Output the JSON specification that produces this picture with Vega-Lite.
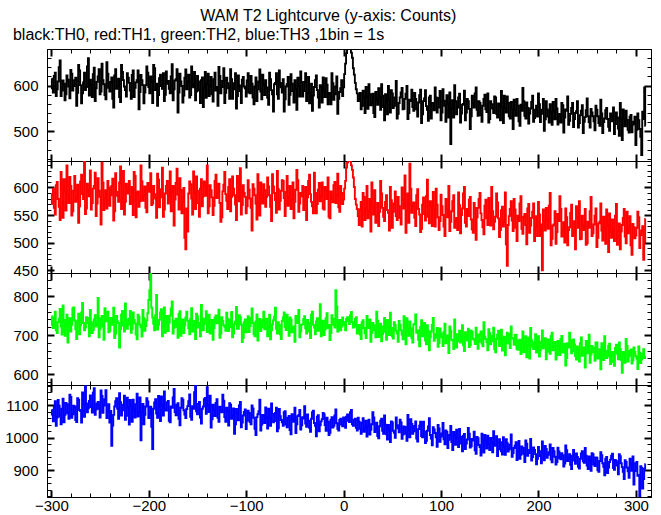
{
"$schema": "https://vega.github.io/schema/vega-lite/v6.json",
"background": "white",
"padding": {"left": 4, "top": 7, "right": 10, "bottom": 0},
"spacing": 0,
"bounds": "flush",
"title": {"text": "WAM T2 Lightcurve (y-axis: Counts)", "anchor": "middle", "font": "Liberation Sans", "fontSize": 16, "fontWeight": "normal", "color": "black", "offset": 3},
"config": {
  "view": {"stroke": "black", "strokeWidth": 1},
  "axis": {"domainColor": "black", "domainWidth": 1, "tickColor": "black", "labelColor": "black", "labelFont": "Liberation Sans", "labelFontSize": 15, "grid": false, "title": null, "labelOverlap": false, "labelFlush": false, "format": "d"}
},
"data": {"values": [
{"t":-300,"a":615,"b":570,"c":748,"d":1085},{"t":-298,"a":585,"b":598,"c":718,"d":1050},{"t":-296,"a":628,"b":551,"c":760,"d":1112},{"t":-294,"a":592,"b":610,"c":705,"d":1062},{"t":-292,"a":640,"b":565,"c":741,"d":1098},{"t":-290,"a":577,"b":628,"c":722,"d":1041},{"t":-288,"a":611,"b":545,"c":776,"d":1120},{"t":-286,"a":568,"b":593,"c":698,"d":1070},{"t":-284,"a":622,"b":640,"c":752,"d":1103},{"t":-282,"a":598,"b":572,"c":729,"d":1058},
{"t":-280,"a":634,"b":603,"c":709,"d":1125},{"t":-278,"a":589,"b":557,"c":768,"d":1072},{"t":-276,"a":612,"b":621,"c":738,"d":1096},{"t":-274,"a":556,"b":580,"c":690,"d":1048},{"t":-272,"a":645,"b":536,"c":755,"d":1117},{"t":-270,"a":601,"b":611,"c":725,"d":1082},{"t":-268,"a":583,"b":588,"c":782,"d":1139},{"t":-266,"a":628,"b":648,"c":712,"d":1064},{"t":-264,"a":597,"b":562,"c":746,"d":1105},{"t":-262,"a":660,"b":596,"c":730,"d":1090},
{"t":-260,"a":613,"b":631,"c":764,"d":1130},{"t":-258,"a":575,"b":572,"c":705,"d":1077},{"t":-256,"a":639,"b":603,"c":740,"d":1152},{"t":-254,"a":594,"b":548,"c":722,"d":1086},{"t":-252,"a":620,"b":617,"c":795,"d":1110},{"t":-250,"a":581,"b":583,"c":716,"d":1062},{"t":-248,"a":648,"b":645,"c":749,"d":1128},{"t":-246,"a":603,"b":559,"c":688,"d":1099},{"t":-244,"a":570,"b":595,"c":737,"d":1146},{"t":-242,"a":626,"b":612,"c":760,"d":1081},
{"t":-240,"a":587,"b":567,"c":711,"d":1046},{"t":-238,"a":618,"b":603,"c":742,"d":975},{"t":-236,"a":552,"b":540,"c":770,"d":1070},{"t":-234,"a":636,"b":626,"c":703,"d":1112},{"t":-232,"a":599,"b":585,"c":735,"d":1089},{"t":-230,"a":575,"b":609,"c":668,"d":1137},{"t":-228,"a":645,"b":561,"c":752,"d":1068},{"t":-226,"a":612,"b":630,"c":724,"d":1101},{"t":-224,"a":590,"b":574,"c":781,"d":1055},{"t":-222,"a":627,"b":598,"c":716,"d":1123},
{"t":-220,"a":606,"b":612,"c":742,"d":1040},{"t":-218,"a":571,"b":583,"c":706,"d":1098},{"t":-216,"a":633,"b":550,"c":758,"d":1117},{"t":-214,"a":595,"b":621,"c":730,"d":1062},{"t":-212,"a":612,"b":589,"c":689,"d":1135},{"t":-210,"a":548,"b":565,"c":747,"d":1079},{"t":-208,"a":623,"b":640,"c":720,"d":992},{"t":-206,"a":601,"b":576,"c":764,"d":1104},{"t":-204,"a":585,"b":602,"c":711,"d":1070},{"t":-202,"a":642,"b":555,"c":738,"d":1121},
{"t":-200,"a":597,"b":597,"c":790,"d":1060},{"t":-198,"a":620,"b":626,"c":862,"d":1095},{"t":-196,"a":562,"b":571,"c":745,"d":965},{"t":-194,"a":638,"b":588,"c":712,"d":1108},{"t":-192,"a":604,"b":545,"c":803,"d":1074},{"t":-190,"a":579,"b":614,"c":726,"d":1128},{"t":-188,"a":624,"b":582,"c":758,"d":1051},{"t":-186,"a":593,"b":636,"c":697,"d":1099},{"t":-184,"a":566,"b":560,"c":771,"d":1142},{"t":-182,"a":631,"b":603,"c":733,"d":1083},
{"t":-180,"a":610,"b":571,"c":710,"d":1113},{"t":-178,"a":583,"b":629,"c":750,"d":1047},{"t":-176,"a":647,"b":592,"c":786,"d":1092},{"t":-174,"a":592,"b":531,"c":719,"d":1150},{"t":-172,"a":614,"b":608,"c":742,"d":1069},{"t":-170,"a":541,"b":587,"c":693,"d":1106},{"t":-168,"a":626,"b":617,"c":761,"d":1038},{"t":-166,"a":599,"b":553,"c":728,"d":1121},{"t":-164,"a":578,"b":599,"c":705,"d":1084},{"t":-162,"a":635,"b":488,"c":745,"d":1060},
{"t":-160,"a":607,"b":520,"c":737,"d":1097},{"t":-158,"a":574,"b":611,"c":702,"d":1133},{"t":-156,"a":642,"b":580,"c":769,"d":1055},{"t":-154,"a":596,"b":629,"c":725,"d":1089},{"t":-152,"a":568,"b":561,"c":690,"d":1160},{"t":-150,"a":621,"b":594,"c":748,"d":1072},{"t":-148,"a":589,"b":547,"c":731,"d":1110},{"t":-146,"a":612,"b":615,"c":777,"d":1043},{"t":-144,"a":553,"b":584,"c":712,"d":1096},{"t":-142,"a":630,"b":602,"c":741,"d":1122},
{"t":-140,"a":604,"b":640,"c":708,"d":1155},{"t":-138,"a":577,"b":566,"c":752,"d":1079},{"t":-136,"a":619,"b":595,"c":719,"d":1031},{"t":-134,"a":565,"b":550,"c":688,"d":1101},{"t":-132,"a":628,"b":612,"c":745,"d":1066},{"t":-130,"a":597,"b":581,"c":730,"d":1118},{"t":-128,"a":641,"b":607,"c":765,"d":1049},{"t":-126,"a":583,"b":538,"c":703,"d":1084},{"t":-124,"a":610,"b":593,"c":736,"d":1132},{"t":-122,"a":562,"b":628,"c":721,"d":1063},
{"t":-120,"a":617,"b":576,"c":757,"d":1092},{"t":-118,"a":594,"b":601,"c":710,"d":1037},{"t":-116,"a":636,"b":557,"c":739,"d":1101},{"t":-114,"a":571,"b":620,"c":694,"d":1070},{"t":-112,"a":605,"b":586,"c":728,"d":1012},{"t":-110,"a":550,"b":541,"c":772,"d":1088},{"t":-108,"a":622,"b":609,"c":716,"d":1053},{"t":-106,"a":588,"b":635,"c":746,"d":1110},{"t":-104,"a":613,"b":568,"c":682,"d":1046},{"t":-102,"a":598,"b":590,"c":733,"d":1079},
{"t":-100,"a":576,"b":553,"c":707,"d":1026},{"t":-98,"a":627,"b":613,"c":748,"d":1083},{"t":-96,"a":583,"b":580,"c":723,"d":1048},{"t":-94,"a":604,"b":522,"c":768,"d":1099},{"t":-92,"a":559,"b":598,"c":702,"d":1061},{"t":-90,"a":618,"b":571,"c":735,"d":1008},{"t":-88,"a":592,"b":624,"c":686,"d":1072},{"t":-86,"a":635,"b":549,"c":741,"d":1117},{"t":-84,"a":570,"b":587,"c":719,"d":1040},{"t":-82,"a":601,"b":606,"c":760,"d":1066},
{"t":-80,"a":612,"b":565,"c":731,"d":1093},{"t":-78,"a":573,"b":618,"c":697,"d":1028},{"t":-76,"a":628,"b":586,"c":752,"d":1060},{"t":-74,"a":590,"b":539,"c":712,"d":1105},{"t":-72,"a":543,"b":602,"c":738,"d":1047},{"t":-70,"a":606,"b":577,"c":770,"d":1076},{"t":-68,"a":581,"b":630,"c":704,"d":1019},{"t":-66,"a":633,"b":560,"c":726,"d":1088},{"t":-64,"a":596,"b":594,"c":690,"d":1054},{"t":-62,"a":614,"b":612,"c":745,"d":1036},
{"t":-60,"a":570,"b":548,"c":721,"d":1081},{"t":-58,"a":603,"b":621,"c":752,"d":1032},{"t":-56,"a":558,"b":583,"c":698,"d":1067},{"t":-54,"a":625,"b":561,"c":740,"d":1010},{"t":-52,"a":588,"b":609,"c":715,"d":1059},{"t":-50,"a":612,"b":574,"c":683,"d":1092},{"t":-48,"a":547,"b":632,"c":733,"d":1041},{"t":-46,"a":599,"b":556,"c":764,"d":1070},{"t":-44,"a":631,"b":590,"c":709,"d":1025},{"t":-42,"a":576,"b":603,"c":728,"d":1063},
{"t":-40,"a":608,"b":579,"c":748,"d":1097},{"t":-38,"a":566,"b":541,"c":704,"d":1033},{"t":-36,"a":619,"b":612,"c":731,"d":1052},{"t":-34,"a":583,"b":588,"c":692,"d":1018},{"t":-32,"a":545,"b":566,"c":760,"d":1078},{"t":-30,"a":597,"b":627,"c":719,"d":1045},{"t":-28,"a":622,"b":553,"c":735,"d":1004},{"t":-26,"a":574,"b":596,"c":711,"d":1069},{"t":-24,"a":601,"b":575,"c":779,"d":1038},{"t":-22,"a":563,"b":609,"c":726,"d":1057},
{"t":-20,"a":590,"b":560,"c":700,"d":1072},{"t":-18,"a":616,"b":594,"c":743,"d":1021},{"t":-16,"a":559,"b":618,"c":718,"d":1049},{"t":-14,"a":582,"b":544,"c":687,"d":1015},{"t":-12,"a":627,"b":580,"c":751,"d":1063},{"t":-10,"a":569,"b":604,"c":726,"d":1036},{"t":-8,"a":598,"b":572,"c":815,"d":1087},{"t":-6,"a":538,"b":625,"c":709,"d":1027},{"t":-4,"a":586,"b":556,"c":739,"d":1054},{"t":-2,"a":612,"b":590,"c":722,"d":1040},
{"t":0,"a":596,"b":578,"c":733,"d":1062},{"t":2,"a":648,"b":612,"c":712,"d":1030},{"t":4,"a":684,"b":645,"c":746,"d":1071},{"t":6,"a":690,"b":652,"c":728,"d":1048},{"t":8,"a":672,"b":640,"c":759,"d":1085},{"t":10,"a":638,"b":618,"c":719,"d":1036},{"t":12,"a":606,"b":579,"c":741,"d":1058},{"t":14,"a":583,"b":561,"c":704,"d":1022},
{"t":16,"a":571,"b":532,"c":726,"d":1049},{"t":18,"a":548,"b":574,"c":690,"d":1012},{"t":20,"a":589,"b":590,"c":738,"d":1060},{"t":22,"a":540,"b":541,"c":705,"d":1031},{"t":24,"a":576,"b":603,"c":749,"d":1003},{"t":26,"a":603,"b":558,"c":718,"d":1055},{"t":28,"a":557,"b":520,"c":683,"d":1024},{"t":30,"a":582,"b":567,"c":731,"d":1078},{"t":32,"a":531,"b":595,"c":712,"d":1017},{"t":34,"a":569,"b":548,"c":760,"d":1046},
{"t":36,"a":594,"b":530,"c":695,"d":998},{"t":38,"a":547,"b":612,"c":729,"d":1052},{"t":40,"a":578,"b":563,"c":702,"d":1021},{"t":42,"a":524,"b":539,"c":744,"d":1068},{"t":44,"a":562,"b":586,"c":688,"d":1010},{"t":46,"a":599,"b":554,"c":720,"d":1039},{"t":48,"a":541,"b":601,"c":757,"d":986},{"t":50,"a":583,"b":527,"c":697,"d":1047},{"t":52,"a":556,"b":571,"c":733,"d":1015},{"t":54,"a":610,"b":548,"c":711,"d":1062},
{"t":56,"a":538,"b":583,"c":683,"d":1029},{"t":58,"a":574,"b":545,"c":726,"d":1055},{"t":60,"a":595,"b":600,"c":701,"d":996},{"t":62,"a":549,"b":562,"c":748,"d":1034},{"t":64,"a":582,"b":518,"c":676,"d":1012},{"t":66,"a":527,"b":589,"c":715,"d":1070},{"t":68,"a":569,"b":643,"c":735,"d":1001},{"t":70,"a":591,"b":554,"c":692,"d":1042},{"t":72,"a":545,"b":573,"c":727,"d":1019},{"t":74,"a":571,"b":530,"c":753,"d":1050},
{"t":76,"a":532,"b":597,"c":712,"d":988},{"t":78,"a":579,"b":551,"c":671,"d":1037},{"t":80,"a":518,"b":525,"c":738,"d":1005},{"t":82,"a":566,"b":582,"c":702,"d":1049},{"t":84,"a":590,"b":540,"c":686,"d":983},{"t":86,"a":547,"b":614,"c":725,"d":1021},{"t":88,"a":574,"b":535,"c":661,"d":1060},{"t":90,"a":528,"b":566,"c":709,"d":997},{"t":92,"a":561,"b":592,"c":744,"d":1032},{"t":94,"a":596,"b":529,"c":693,"d":1014},
{"t":96,"a":541,"b":569,"c":718,"d":972},{"t":98,"a":573,"b":523,"c":680,"d":1028},{"t":100,"a":524,"b":587,"c":704,"d":1003},{"t":102,"a":592,"b":550,"c":672,"d":1045},{"t":104,"a":556,"b":512,"c":729,"d":979},{"t":106,"a":579,"b":561,"c":695,"d":1017},{"t":108,"a":530,"b":603,"c":654,"d":993},{"t":110,"a":472,"b":538,"c":711,"d":1036},{"t":112,"a":568,"b":575,"c":686,"d":962},{"t":114,"a":601,"b":527,"c":740,"d":1009},
{"t":116,"a":537,"b":545,"c":668,"d":1024},{"t":118,"a":574,"b":591,"c":702,"d":971},{"t":120,"a":519,"b":517,"c":681,"d":1003},{"t":122,"a":558,"b":562,"c":725,"d":958},{"t":124,"a":589,"b":601,"c":659,"d":1011},{"t":126,"a":541,"b":529,"c":697,"d":982},{"t":128,"a":566,"b":548,"c":716,"d":1030},{"t":130,"a":505,"b":583,"c":674,"d":969},{"t":132,"a":578,"b":524,"c":708,"d":996},{"t":134,"a":552,"b":572,"c":688,"d":1018},
{"t":136,"a":596,"b":505,"c":719,"d":950},{"t":138,"a":534,"b":563,"c":665,"d":998},{"t":140,"a":562,"b":590,"c":702,"d":971},{"t":142,"a":521,"b":541,"c":678,"d":1012},{"t":144,"a":571,"b":515,"c":733,"d":954},{"t":146,"a":548,"b":578,"c":690,"d":989},{"t":148,"a":583,"b":532,"c":661,"d":1006},{"t":150,"a":527,"b":556,"c":705,"d":962},{"t":152,"a":559,"b":601,"c":684,"d":985},{"t":154,"a":540,"b":524,"c":719,"d":1020},
{"t":156,"a":574,"b":547,"c":656,"d":976},{"t":158,"a":530,"b":573,"c":701,"d":943},{"t":160,"a":557,"b":510,"c":672,"d":995},{"t":162,"a":588,"b":559,"c":714,"d":958},{"t":164,"a":518,"b":529,"c":689,"d":1001},{"t":166,"a":551,"b":591,"c":648,"d":947},{"t":168,"a":576,"b":458,"c":706,"d":983},{"t":170,"a":533,"b":548,"c":678,"d":964},{"t":172,"a":564,"b":575,"c":722,"d":1010},{"t":174,"a":505,"b":521,"c":691,"d":952},
{"t":176,"a":547,"b":560,"c":700,"d":975},{"t":178,"a":571,"b":503,"c":664,"d":931},{"t":180,"a":522,"b":539,"c":687,"d":990},{"t":182,"a":558,"b":584,"c":651,"d":947},{"t":184,"a":595,"b":516,"c":709,"d":968},{"t":186,"a":534,"b":552,"c":676,"d":925},{"t":188,"a":563,"b":497,"c":643,"d":981},{"t":190,"a":517,"b":570,"c":694,"d":952},{"t":192,"a":550,"b":531,"c":718,"d":996},{"t":194,"a":578,"b":556,"c":670,"d":940},
{"t":196,"a":529,"b":503,"c":681,"d":962},{"t":198,"a":556,"b":548,"c":655,"d":918},{"t":200,"a":583,"b":574,"c":697,"d":971},{"t":202,"a":520,"b":512,"c":661,"d":943},{"t":204,"a":547,"b":450,"c":712,"d":988},{"t":206,"a":501,"b":539,"c":674,"d":930},{"t":208,"a":566,"b":563,"c":638,"d":965},{"t":210,"a":532,"b":525,"c":689,"d":947},{"t":212,"a":559,"b":590,"c":652,"d":979},{"t":214,"a":514,"b":507,"c":706,"d":924},
{"t":216,"a":544,"b":533,"c":671,"d":958},{"t":218,"a":571,"b":498,"c":637,"d":917},{"t":220,"a":515,"b":552,"c":685,"d":969},{"t":222,"a":538,"b":584,"c":649,"d":936},{"t":224,"a":562,"b":511,"c":698,"d":952},{"t":226,"a":497,"b":537,"c":664,"d":911},{"t":228,"a":548,"b":562,"c":622,"d":976},{"t":230,"a":576,"b":495,"c":679,"d":928},{"t":232,"a":523,"b":528,"c":706,"d":949},{"t":234,"a":551,"b":569,"c":653,"d":903},
{"t":236,"a":509,"b":520,"c":689,"d":962},{"t":238,"a":540,"b":488,"c":646,"d":919},{"t":240,"a":566,"b":546,"c":671,"d":940},{"t":242,"a":518,"b":575,"c":632,"d":905},{"t":244,"a":545,"b":507,"c":694,"d":951},{"t":246,"a":496,"b":532,"c":658,"d":927},{"t":248,"a":531,"b":561,"c":617,"d":968},{"t":250,"a":572,"b":499,"c":677,"d":914},{"t":252,"a":520,"b":527,"c":701,"d":942},{"t":254,"a":549,"b":583,"c":650,"d":898},
{"t":256,"a":533,"b":517,"c":668,"d":949},{"t":258,"a":502,"b":549,"c":634,"d":912},{"t":260,"a":547,"b":492,"c":681,"d":938},{"t":262,"a":518,"b":535,"c":645,"d":895},{"t":264,"a":569,"b":571,"c":612,"d":955},{"t":266,"a":496,"b":504,"c":662,"d":921},{"t":268,"a":528,"b":526,"c":697,"d":884},{"t":270,"a":551,"b":560,"c":641,"d":940},{"t":272,"a":510,"b":483,"c":673,"d":908},{"t":274,"a":539,"b":519,"c":626,"d":932},
{"t":276,"a":522,"b":542,"c":657,"d":950},{"t":278,"a":494,"b":503,"c":621,"d":901},{"t":280,"a":541,"b":570,"c":675,"d":927},{"t":282,"a":506,"b":521,"c":638,"d":887},{"t":284,"a":562,"b":488,"c":664,"d":943},{"t":286,"a":481,"b":532,"c":603,"d":909},{"t":288,"a":527,"b":561,"c":651,"d":872},{"t":290,"a":545,"b":499,"c":690,"d":925},{"t":292,"a":503,"b":517,"c":632,"d":896},{"t":294,"a":532,"b":548,"c":659,"d":935},
{"t":296,"a":498,"b":478,"c":627,"d":898},{"t":298,"a":521,"b":528,"c":668,"d":855},{"t":300,"a":470,"b":513,"c":646,"d":921},{"t":302,"a":539,"b":556,"c":613,"d":882},{"t":304,"a":505,"b":490,"c":655,"d":818},{"t":306,"a":448,"b":522,"c":637,"d":907},{"t":308,"a":527,"b":469,"c":664,"d":872},{"t":310,"a":512,"b":543,"c":645,"d":918},
{"t":-299,"a":594,"b":587,"c":726,"d":1071},{"t":-297,"a":621,"b":563,"c":745,"d":1094},{"t":-295,"a":577,"b":604,"c":712,"d":1036},{"t":-293,"a":609,"b":579,"c":733,"d":1116},{"t":-291,"a":655,"b":541,"c":767,"d":1065},{"t":-289,"a":589,"b":597,"c":701,"d":1089},{"t":-287,"a":604,"b":615,"c":739,"d":1047},{"t":-285,"a":581,"b":558,"c":724,"d":1107},{"t":-283,"a":613,"b":586,"c":681,"d":1075},{"t":-281,"a":572,"b":619,"c":743,"d":1132},
{"t":-279,"a":626,"b":549,"c":727,"d":1061},{"t":-277,"a":599,"b":594,"c":771,"d":1098},{"t":-275,"a":617,"b":574,"c":715,"d":1054},{"t":-273,"a":584,"b":605,"c":736,"d":1121},{"t":-271,"a":633,"b":566,"c":702,"d":1085},{"t":-269,"a":561,"b":623,"c":758,"d":1046},{"t":-267,"a":607,"b":579,"c":731,"d":1102},{"t":-265,"a":590,"b":552,"c":719,"d":1158},{"t":-263,"a":642,"b":607,"c":744,"d":1078},{"t":-261,"a":578,"b":584,"c":697,"d":1113},
{"t":-259,"a":600,"b":560,"c":733,"d":1094},{"t":-257,"a":625,"b":598,"c":713,"d":1138},{"t":-255,"a":566,"b":627,"c":751,"d":1070},{"t":-253,"a":608,"b":571,"c":728,"d":1105},{"t":-251,"a":636,"b":594,"c":694,"d":1089},{"t":-249,"a":587,"b":533,"c":743,"d":1145},{"t":-247,"a":612,"b":609,"c":722,"d":1076},{"t":-245,"a":579,"b":581,"c":769,"d":1118},{"t":-243,"a":651,"b":562,"c":735,"d":1060},{"t":-241,"a":595,"b":600,"c":707,"d":1103},
{"t":-239,"a":608,"b":586,"c":744,"d":1082},{"t":-237,"a":571,"b":616,"c":726,"d":1037},{"t":-235,"a":622,"b":557,"c":692,"d":1096},{"t":-233,"a":593,"b":592,"c":749,"d":1121},{"t":-231,"a":615,"b":574,"c":731,"d":1058},{"t":-229,"a":564,"b":638,"c":715,"d":1109},{"t":-227,"a":630,"b":580,"c":762,"d":1084},{"t":-225,"a":598,"b":551,"c":709,"d":1129},{"t":-223,"a":576,"b":607,"c":740,"d":1067},{"t":-221,"a":617,"b":589,"c":727,"d":1094},
{"t":-219,"a":589,"b":570,"c":762,"d":1116},{"t":-217,"a":623,"b":601,"c":716,"d":1049},{"t":-215,"a":575,"b":628,"c":739,"d":1087},{"t":-213,"a":607,"b":546,"c":701,"d":1103},{"t":-211,"a":633,"b":593,"c":752,"d":1065},{"t":-209,"a":586,"b":575,"c":727,"d":1124},{"t":-207,"a":612,"b":611,"c":696,"d":1078},{"t":-205,"a":561,"b":587,"c":743,"d":1041},{"t":-203,"a":601,"b":563,"c":723,"d":1096},{"t":-201,"a":628,"b":608,"c":756,"d":1111},
{"t":-199,"a":583,"b":592,"c":815,"d":1072},{"t":-197,"a":609,"b":568,"c":770,"d":1033},{"t":-195,"a":645,"b":603,"c":729,"d":1089},{"t":-193,"a":590,"b":580,"c":751,"d":1118},{"t":-191,"a":556,"b":625,"c":714,"d":1061},{"t":-189,"a":616,"b":564,"c":739,"d":1095},{"t":-187,"a":599,"b":597,"c":766,"d":1127},{"t":-185,"a":627,"b":547,"c":724,"d":1068},{"t":-183,"a":580,"b":589,"c":706,"d":1087},{"t":-181,"a":604,"b":612,"c":749,"d":1109},
{"t":-179,"a":593,"b":585,"c":732,"d":1052},{"t":-177,"a":620,"b":557,"c":768,"d":1096},{"t":-175,"a":568,"b":603,"c":704,"d":1124},{"t":-173,"a":611,"b":578,"c":737,"d":1079},{"t":-171,"a":636,"b":634,"c":721,"d":1101},{"t":-169,"a":585,"b":560,"c":754,"d":1058},{"t":-167,"a":609,"b":596,"c":698,"d":1092},{"t":-165,"a":563,"b":574,"c":740,"d":1117},{"t":-163,"a":617,"b":509,"c":725,"d":1071},{"t":-161,"a":592,"b":562,"c":760,"d":1088},
{"t":-159,"a":624,"b":589,"c":717,"d":1112},{"t":-157,"a":579,"b":606,"c":742,"d":1064},{"t":-155,"a":602,"b":551,"c":709,"d":1097},{"t":-153,"a":630,"b":591,"c":736,"d":1140},{"t":-151,"a":587,"b":620,"c":755,"d":1081},{"t":-149,"a":609,"b":572,"c":719,"d":1104},{"t":-147,"a":562,"b":598,"c":697,"d":1062},{"t":-145,"a":618,"b":566,"c":743,"d":1089},{"t":-143,"a":595,"b":611,"c":729,"d":1118},{"t":-141,"a":573,"b":585,"c":761,"d":1073},
{"t":-139,"a":626,"b":553,"c":722,"d":1098},{"t":-137,"a":600,"b":604,"c":704,"d":1129},{"t":-135,"a":581,"b":582,"c":739,"d":1056},{"t":-133,"a":614,"b":567,"c":718,"d":1087},{"t":-131,"a":589,"b":623,"c":750,"d":1107},{"t":-129,"a":556,"b":590,"c":731,"d":1061},{"t":-127,"a":621,"b":572,"c":693,"d":1095},{"t":-125,"a":597,"b":546,"c":746,"d":1078},{"t":-123,"a":638,"b":605,"c":725,"d":1114},{"t":-121,"a":584,"b":588,"c":711,"d":1049},
{"t":-119,"a":605,"b":561,"c":741,"d":1083},{"t":-117,"a":571,"b":615,"c":720,"d":1106},{"t":-115,"a":614,"b":583,"c":759,"d":1058},{"t":-113,"a":592,"b":598,"c":704,"d":1090},{"t":-111,"a":627,"b":569,"c":735,"d":1041},{"t":-109,"a":577,"b":621,"c":716,"d":1075},{"t":-107,"a":600,"b":575,"c":751,"d":1099},{"t":-105,"a":562,"b":551,"c":727,"d":1032},{"t":-103,"a":619,"b":604,"c":693,"d":1068},{"t":-101,"a":594,"b":583,"c":740,"d":1087},
{"t":-99,"a":611,"b":566,"c":725,"d":1052},{"t":-97,"a":585,"b":596,"c":708,"d":1076},{"t":-95,"a":621,"b":563,"c":744,"d":1041},{"t":-93,"a":574,"b":606,"c":731,"d":1090},{"t":-91,"a":598,"b":586,"c":697,"d":1027},{"t":-89,"a":566,"b":542,"c":753,"d":1063},{"t":-87,"a":609,"b":590,"c":724,"d":1081},{"t":-85,"a":587,"b":609,"c":710,"d":1022},{"t":-83,"a":624,"b":571,"c":738,"d":1070},{"t":-81,"a":579,"b":595,"c":715,"d":1045},
{"t":-79,"a":596,"b":583,"c":742,"d":1062},{"t":-77,"a":558,"b":602,"c":720,"d":1089},{"t":-75,"a":614,"b":565,"c":689,"d":1036},{"t":-73,"a":581,"b":624,"c":727,"d":1073},{"t":-71,"a":603,"b":590,"c":747,"d":1051},{"t":-69,"a":627,"b":554,"c":716,"d":1092},{"t":-67,"a":571,"b":597,"c":733,"d":1029},{"t":-65,"a":606,"b":576,"c":702,"d":1066},{"t":-63,"a":585,"b":613,"c":736,"d":1047},{"t":-61,"a":543,"b":581,"c":758,"d":1078},
{"t":-59,"a":598,"b":592,"c":713,"d":1040},{"t":-57,"a":619,"b":567,"c":730,"d":1061},{"t":-55,"a":580,"b":603,"c":745,"d":1023},{"t":-53,"a":604,"b":579,"c":707,"d":1072},{"t":-51,"a":563,"b":544,"c":722,"d":1049},{"t":-49,"a":593,"b":596,"c":749,"d":1014},{"t":-47,"a":617,"b":613,"c":731,"d":1066},{"t":-45,"a":576,"b":571,"c":694,"d":1085},{"t":-43,"a":608,"b":584,"c":726,"d":1038},{"t":-41,"a":588,"b":559,"c":741,"d":1059},
{"t":-39,"a":627,"b":601,"c":717,"d":1043},{"t":-37,"a":584,"b":582,"c":739,"d":1071},{"t":-35,"a":561,"b":623,"c":709,"d":1030},{"t":-33,"a":604,"b":574,"c":752,"d":1058},{"t":-31,"a":578,"b":553,"c":726,"d":1083},{"t":-29,"a":612,"b":590,"c":702,"d":1036},{"t":-27,"a":590,"b":570,"c":743,"d":1064},{"t":-25,"a":552,"b":608,"c":722,"d":1019},{"t":-23,"a":597,"b":585,"c":697,"d":1050},{"t":-21,"a":618,"b":562,"c":737,"d":1076},
{"t":-19,"a":575,"b":601,"c":714,"d":1039},{"t":-17,"a":602,"b":579,"c":756,"d":1061},{"t":-15,"a":584,"b":547,"c":726,"d":1008},{"t":-13,"a":559,"b":593,"c":705,"d":1054},{"t":-11,"a":605,"b":573,"c":741,"d":1031},{"t":-9,"a":581,"b":610,"c":719,"d":1068},{"t":-7,"a":620,"b":586,"c":774,"d":1044},{"t":-5,"a":571,"b":564,"c":730,"d":1022},{"t":-3,"a":594,"b":603,"c":712,"d":1058},{"t":-1,"a":577,"b":570,"c":745,"d":1035},
{"t":1,"a":625,"b":598,"c":725,"d":1049},{"t":3,"a":671,"b":636,"c":741,"d":1064},{"t":5,"a":695,"b":658,"c":736,"d":1052},{"t":7,"a":688,"b":648,"c":750,"d":1078},{"t":9,"a":661,"b":632,"c":733,"d":1041},{"t":11,"a":624,"b":601,"c":722,"d":1055},{"t":13,"a":592,"b":569,"c":746,"d":1030},{"t":15,"a":566,"b":548,"c":712,"d":1061},{"t":17,"a":584,"b":560,"c":701,"d":1027},{"t":19,"a":556,"b":529,"c":733,"d":1046},
{"t":21,"a":572,"b":583,"c":718,"d":1018},{"t":23,"a":597,"b":562,"c":692,"d":1052},{"t":25,"a":549,"b":544,"c":727,"d":1036},{"t":27,"a":581,"b":579,"c":740,"d":1009},{"t":29,"a":563,"b":609,"c":706,"d":1041},{"t":31,"a":540,"b":551,"c":725,"d":1062},{"t":33,"a":586,"b":536,"c":694,"d":1028},{"t":35,"a":558,"b":572,"c":737,"d":1005},{"t":37,"a":574,"b":556,"c":716,"d":1035},{"t":39,"a":603,"b":589,"c":684,"d":1058},
{"t":41,"a":553,"b":547,"c":722,"d":1012},{"t":43,"a":581,"b":574,"c":708,"d":1040},{"t":45,"a":537,"b":559,"c":739,"d":994},{"t":47,"a":568,"b":522,"c":700,"d":1027},{"t":49,"a":590,"b":577,"c":718,"d":1050},{"t":51,"a":551,"b":556,"c":691,"d":1021},{"t":53,"a":574,"b":593,"c":726,"d":999},{"t":55,"a":528,"b":541,"c":704,"d":1038},{"t":57,"a":562,"b":566,"c":736,"d":1016},{"t":59,"a":585,"b":533,"c":712,"d":1047},
{"t":61,"a":548,"b":578,"c":689,"d":1009},{"t":63,"a":571,"b":622,"c":720,"d":1033},{"t":65,"a":599,"b":557,"c":743,"d":990},{"t":67,"a":540,"b":536,"c":698,"d":1024},{"t":69,"a":566,"b":598,"c":717,"d":1057},{"t":71,"a":553,"b":567,"c":681,"d":1012},{"t":73,"a":584,"b":545,"c":729,"d":1036},{"t":75,"a":548,"b":586,"c":706,"d":997},{"t":77,"a":563,"b":561,"c":688,"d":1026},{"t":79,"a":591,"b":519,"c":720,"d":1049},
{"t":81,"a":537,"b":569,"c":697,"d":1001},{"t":83,"a":572,"b":552,"c":731,"d":1019},{"t":85,"a":555,"b":584,"c":676,"d":990},{"t":87,"a":523,"b":547,"c":710,"d":1034},{"t":89,"a":578,"b":575,"c":694,"d":1008},{"t":91,"a":562,"b":530,"c":726,"d":976},{"t":93,"a":546,"b":561,"c":685,"d":1025},{"t":95,"a":574,"b":598,"c":703,"d":1001},{"t":97,"a":552,"b":546,"c":670,"d":1039},{"t":99,"a":588,"b":539,"c":717,"d":987},
{"t":101,"a":541,"b":566,"c":694,"d":1013},{"t":103,"a":567,"b":529,"c":708,"d":995},{"t":105,"a":521,"b":579,"c":679,"d":1022},{"t":107,"a":559,"b":546,"c":699,"d":968},{"t":109,"a":585,"b":521,"c":722,"d":1008},{"t":111,"a":548,"b":557,"c":688,"d":986},{"t":113,"a":530,"b":586,"c":664,"d":1017},{"t":115,"a":566,"b":540,"c":702,"d":978},{"t":117,"a":552,"b":523,"c":684,"d":999},{"t":119,"a":582,"b":568,"c":711,"d":1027},
{"t":121,"a":539,"b":550,"c":693,"d":982},{"t":123,"a":560,"b":589,"c":674,"d":1006},{"t":125,"a":524,"b":536,"c":707,"d":965},{"t":127,"a":571,"b":561,"c":686,"d":994},{"t":129,"a":549,"b":578,"c":669,"d":1012},{"t":131,"a":533,"b":542,"c":712,"d":973},{"t":133,"a":561,"b":518,"c":690,"d":991},{"t":135,"a":583,"b":563,"c":677,"d":961},{"t":137,"a":547,"b":546,"c":701,"d":1002},{"t":139,"a":566,"b":579,"c":683,"d":977},
{"t":141,"a":535,"b":553,"c":709,"d":945},{"t":143,"a":556,"b":528,"c":671,"d":989},{"t":145,"a":580,"b":567,"c":696,"d":1008},{"t":147,"a":542,"b":544,"c":682,"d":966},{"t":149,"a":519,"b":581,"c":715,"d":981},{"t":151,"a":566,"b":531,"c":676,"d":999},{"t":153,"a":550,"b":557,"c":698,"d":955},{"t":155,"a":576,"b":538,"c":664,"d":975},{"t":157,"a":538,"b":589,"c":690,"d":1004},{"t":159,"a":561,"b":544,"c":711,"d":964},
{"t":161,"a":524,"b":523,"c":683,"d":986},{"t":163,"a":553,"b":565,"c":660,"d":948},{"t":165,"a":578,"b":538,"c":696,"d":971},{"t":167,"a":541,"b":497,"c":679,"d":995},{"t":169,"a":562,"b":532,"c":703,"d":957},{"t":171,"a":528,"b":561,"c":667,"d":978},{"t":173,"a":549,"b":540,"c":692,"d":941},{"t":175,"a":569,"b":579,"c":675,"d":968},{"t":177,"a":534,"b":527,"c":701,"d":986},{"t":179,"a":556,"b":549,"c":662,"d":958},
{"t":181,"a":512,"b":571,"c":688,"d":935},{"t":183,"a":545,"b":525,"c":679,"d":973},{"t":185,"a":566,"b":547,"c":656,"d":950},{"t":187,"a":528,"b":532,"c":697,"d":991},{"t":189,"a":551,"b":562,"c":673,"d":944},{"t":191,"a":539,"b":518,"c":640,"d":962},{"t":193,"a":564,"b":545,"c":686,"d":929},{"t":195,"a":521,"b":571,"c":664,"d":970},{"t":197,"a":547,"b":529,"c":702,"d":949},{"t":199,"a":532,"b":512,"c":671,"d":935},
{"t":201,"a":559,"b":551,"c":645,"d":958},{"t":203,"a":538,"b":533,"c":683,"d":921},{"t":205,"a":571,"b":560,"c":666,"d":952},{"t":207,"a":526,"b":522,"c":692,"d":974},{"t":209,"a":548,"b":542,"c":657,"d":938},{"t":211,"a":519,"b":567,"c":676,"d":955},{"t":213,"a":543,"b":495,"c":698,"d":932},{"t":215,"a":564,"b":531,"c":661,"d":968},{"t":217,"a":526,"b":557,"c":682,"d":941},{"t":219,"a":550,"b":519,"c":648,"d":925},
{"t":221,"a":534,"b":539,"c":671,"d":957},{"t":223,"a":519,"b":561,"c":690,"d":933},{"t":225,"a":557,"b":524,"c":655,"d":946},{"t":227,"a":530,"b":500,"c":678,"d":920},{"t":229,"a":545,"b":546,"c":641,"d":961},{"t":231,"a":514,"b":523,"c":668,"d":937},{"t":233,"a":538,"b":554,"c":687,"d":916},{"t":235,"a":562,"b":512,"c":659,"d":944},{"t":237,"a":527,"b":539,"c":676,"d":929},{"t":239,"a":544,"b":566,"c":637,"d":951},
{"t":241,"a":508,"b":527,"c":661,"d":910},{"t":243,"a":535,"b":506,"c":679,"d":935},{"t":245,"a":557,"b":549,"c":647,"d":958},{"t":247,"a":521,"b":523,"c":668,"d":922},{"t":249,"a":546,"b":496,"c":685,"d":944},{"t":251,"a":533,"b":538,"c":653,"d":903},{"t":253,"a":508,"b":557,"c":629,"d":931},{"t":255,"a":541,"b":512,"c":672,"d":952},{"t":257,"a":522,"b":533,"c":656,"d":917},{"t":259,"a":556,"b":562,"c":681,"d":939},
{"t":261,"a":533,"b":509,"c":640,"d":899},{"t":263,"a":512,"b":538,"c":664,"d":928},{"t":265,"a":539,"b":522,"c":679,"d":946},{"t":267,"a":520,"b":547,"c":636,"d":910},{"t":269,"a":546,"b":498,"c":660,"d":935},{"t":271,"a":527,"b":531,"c":645,"d":891},{"t":273,"a":501,"b":553,"c":678,"d":925},{"t":275,"a":533,"b":509,"c":649,"d":944},{"t":277,"a":552,"b":524,"c":630,"d":906},{"t":279,"a":516,"b":549,"c":667,"d":931},
{"t":281,"a":530,"b":496,"c":652,"d":914},{"t":283,"a":490,"b":535,"c":681,"d":949},{"t":285,"a":527,"b":520,"c":636,"d":921},{"t":287,"a":548,"b":545,"c":657,"d":895},{"t":289,"a":511,"b":511,"c":629,"d":930},{"t":291,"a":525,"b":556,"c":672,"d":908},{"t":293,"a":497,"b":526,"c":646,"d":876},{"t":295,"a":536,"b":495,"c":663,"d":919},{"t":297,"a":515,"b":534,"c":635,"d":942},{"t":299,"a":532,"b":508,"c":657,"d":897},
{"t":301,"a":503,"b":527,"c":640,"d":925},{"t":303,"a":524,"b":546,"c":671,"d":885},{"t":305,"a":488,"b":514,"c":628,"d":912},{"t":307,"a":543,"b":530,"c":652,"d":843},{"t":309,"a":596,"b":501,"c":641,"d":904}
]},
"vconcat": [
{
  "width": 604, "height": 112,
  "title": {"text": "black:TH0, red:TH1, green:TH2, blue:TH3 ,1bin = 1s", "anchor": "start", "font": "Liberation Sans", "fontSize": 16, "fontWeight": "normal", "color": "black", "offset": -1},
  "layer": [
    {"mark": {"type": "line", "interpolate": "step", "color": "black", "strokeWidth": 1.9, "clip": true},
     "encoding": {
       "x": {"field": "t", "type": "quantitative", "scale": {"domain": [-304.5, 315.5], "nice": false, "zero": false},
             "axis": {"orient": "bottom", "labels": false, "values": [-300,-280,-260,-240,-220,-200,-180,-160,-140,-120,-100,-80,-60,-40,-20,0,20,40,60,80,100,120,140,160,180,200,220,240,260,280,300], "tickSize": {"condition": {"test": "datum.value % 100 === 0", "value": -7}, "value": -4}, "tickWidth": {"condition": {"test": "datum.value % 100 === 0", "value": 2}, "value": 1}}},
       "y": {"field": "a", "type": "quantitative", "scale": {"domain": [435, 680], "nice": false, "zero": false},
             "axis": {"orient": "left", "values": [440,460,480,500,520,540,560,580,600,620,640,660,680], "labelExpr": "datum.value % 100 === 0 ? datum.label : ''", "labelPadding": 16, "tickSize": {"condition": {"test": "datum.value % 100 === 0", "value": -7}, "value": -4}, "tickWidth": {"condition": {"test": "datum.value % 100 === 0", "value": 2}, "value": 1}}}
     }},
    {"mark": {"type": "line", "opacity": 0, "clip": true},
     "encoding": {
       "x": {"field": "t", "type": "quantitative",
             "axis": {"orient": "top", "labels": false, "values": [-300,-280,-260,-240,-220,-200,-180,-160,-140,-120,-100,-80,-60,-40,-20,0,20,40,60,80,100,120,140,160,180,200,220,240,260,280,300], "tickSize": {"condition": {"test": "datum.value % 100 === 0", "value": -7}, "value": -4}, "tickWidth": {"condition": {"test": "datum.value % 100 === 0", "value": 2}, "value": 1}}},
       "y": {"field": "a", "type": "quantitative",
             "axis": {"orient": "right", "labels": false, "values": [440,460,480,500,520,540,560,580,600,620,640,660,680], "tickSize": {"condition": {"test": "datum.value % 100 === 0", "value": -7}, "value": -4}, "tickWidth": {"condition": {"test": "datum.value % 100 === 0", "value": 2}, "value": 1}}}
     }}
  ],
  "resolve": {"axis": {"x": "independent", "y": "independent"}}
},
{
  "width": 604, "height": 112,
  "layer": [
    {"mark": {"type": "line", "interpolate": "step", "color": "#ff0000", "strokeWidth": 1.9, "clip": true},
     "encoding": {
       "x": {"field": "t", "type": "quantitative", "scale": {"domain": [-304.5, 315.5], "nice": false, "zero": false},
             "axis": {"orient": "bottom", "labels": false, "values": [-300,-280,-260,-240,-220,-200,-180,-160,-140,-120,-100,-80,-60,-40,-20,0,20,40,60,80,100,120,140,160,180,200,220,240,260,280,300], "tickSize": {"condition": {"test": "datum.value % 100 === 0", "value": -7}, "value": -4}, "tickWidth": {"condition": {"test": "datum.value % 100 === 0", "value": 2}, "value": 1}}},
       "y": {"field": "b", "type": "quantitative", "scale": {"domain": [445, 648], "nice": false, "zero": false},
             "axis": {"orient": "left", "values": [450,460,470,480,490,500,510,520,530,540,550,560,570,580,590,600,610,620,630,640], "labelExpr": "datum.value % 50 === 0 ? datum.label : ''", "labelPadding": 16, "tickSize": {"condition": {"test": "datum.value % 50 === 0", "value": -7}, "value": -4}, "tickWidth": {"condition": {"test": "datum.value % 50 === 0", "value": 2}, "value": 1}}}
     }},
    {"mark": {"type": "line", "opacity": 0, "clip": true},
     "encoding": {
       "x": {"field": "t", "type": "quantitative",
             "axis": {"orient": "top", "labels": false, "values": [-300,-280,-260,-240,-220,-200,-180,-160,-140,-120,-100,-80,-60,-40,-20,0,20,40,60,80,100,120,140,160,180,200,220,240,260,280,300], "tickSize": {"condition": {"test": "datum.value % 100 === 0", "value": -7}, "value": -4}, "tickWidth": {"condition": {"test": "datum.value % 100 === 0", "value": 2}, "value": 1}}},
       "y": {"field": "b", "type": "quantitative",
             "axis": {"orient": "right", "labels": false, "values": [450,460,470,480,490,500,510,520,530,540,550,560,570,580,590,600,610,620,630,640], "tickSize": {"condition": {"test": "datum.value % 50 === 0", "value": -7}, "value": -4}, "tickWidth": {"condition": {"test": "datum.value % 50 === 0", "value": 2}, "value": 1}}}
     }}
  ],
  "resolve": {"axis": {"x": "independent", "y": "independent"}}
},
{
  "width": 604, "height": 112,
  "layer": [
    {"mark": {"type": "line", "interpolate": "step", "color": "#00ff00", "strokeWidth": 1.9, "clip": true},
     "encoding": {
       "x": {"field": "t", "type": "quantitative", "scale": {"domain": [-304.5, 315.5], "nice": false, "zero": false},
             "axis": {"orient": "bottom", "labels": false, "values": [-300,-280,-260,-240,-220,-200,-180,-160,-140,-120,-100,-80,-60,-40,-20,0,20,40,60,80,100,120,140,160,180,200,220,240,260,280,300], "tickSize": {"condition": {"test": "datum.value % 100 === 0", "value": -7}, "value": -4}, "tickWidth": {"condition": {"test": "datum.value % 100 === 0", "value": 2}, "value": 1}}},
       "y": {"field": "c", "type": "quantitative", "scale": {"domain": [572, 859], "nice": false, "zero": false},
             "axis": {"orient": "left", "values": [580,600,620,640,660,680,700,720,740,760,780,800,820,840], "labelExpr": "datum.value % 100 === 0 ? datum.label : ''", "labelPadding": 16, "tickSize": {"condition": {"test": "datum.value % 100 === 0", "value": -7}, "value": -4}, "tickWidth": {"condition": {"test": "datum.value % 100 === 0", "value": 2}, "value": 1}}}
     }},
    {"mark": {"type": "line", "opacity": 0, "clip": true},
     "encoding": {
       "x": {"field": "t", "type": "quantitative",
             "axis": {"orient": "top", "labels": false, "values": [-300,-280,-260,-240,-220,-200,-180,-160,-140,-120,-100,-80,-60,-40,-20,0,20,40,60,80,100,120,140,160,180,200,220,240,260,280,300], "tickSize": {"condition": {"test": "datum.value % 100 === 0", "value": -7}, "value": -4}, "tickWidth": {"condition": {"test": "datum.value % 100 === 0", "value": 2}, "value": 1}}},
       "y": {"field": "c", "type": "quantitative",
             "axis": {"orient": "right", "labels": false, "values": [580,600,620,640,660,680,700,720,740,760,780,800,820,840], "tickSize": {"condition": {"test": "datum.value % 100 === 0", "value": -7}, "value": -4}, "tickWidth": {"condition": {"test": "datum.value % 100 === 0", "value": 2}, "value": 1}}}
     }}
  ],
  "resolve": {"axis": {"x": "independent", "y": "independent"}}
},
{
  "width": 604, "height": 112,
  "layer": [
    {"mark": {"type": "line", "interpolate": "step", "color": "#0000ff", "strokeWidth": 1.9, "clip": true},
     "encoding": {
       "x": {"field": "t", "type": "quantitative", "scale": {"domain": [-304.5, 315.5], "nice": false, "zero": false},
             "axis": {"orient": "bottom", "values": [-300,-280,-260,-240,-220,-200,-180,-160,-140,-120,-100,-80,-60,-40,-20,0,20,40,60,80,100,120,140,160,180,200,220,240,260,280,300], "labelExpr": "datum.value % 100 === 0 ? datum.label : ''", "labelPadding": 8, "tickSize": {"condition": {"test": "datum.value % 100 === 0", "value": -7}, "value": -4}, "tickWidth": {"condition": {"test": "datum.value % 100 === 0", "value": 2}, "value": 1}}},
       "y": {"field": "d", "type": "quantitative", "scale": {"domain": [817, 1162], "nice": false, "zero": false},
             "axis": {"orient": "left", "values": [820,840,860,880,900,920,940,960,980,1000,1020,1040,1060,1080,1100,1120,1140,1160], "labelExpr": "datum.value % 100 === 0 ? datum.label : ''", "labelPadding": 16, "tickSize": {"condition": {"test": "datum.value % 100 === 0", "value": -7}, "value": -4}, "tickWidth": {"condition": {"test": "datum.value % 100 === 0", "value": 2}, "value": 1}}}
     }},
    {"mark": {"type": "line", "opacity": 0, "clip": true},
     "encoding": {
       "x": {"field": "t", "type": "quantitative",
             "axis": {"orient": "top", "labels": false, "values": [-300,-280,-260,-240,-220,-200,-180,-160,-140,-120,-100,-80,-60,-40,-20,0,20,40,60,80,100,120,140,160,180,200,220,240,260,280,300], "tickSize": {"condition": {"test": "datum.value % 100 === 0", "value": -7}, "value": -4}, "tickWidth": {"condition": {"test": "datum.value % 100 === 0", "value": 2}, "value": 1}}},
       "y": {"field": "d", "type": "quantitative",
             "axis": {"orient": "right", "labels": false, "values": [820,840,860,880,900,920,940,960,980,1000,1020,1040,1060,1080,1100,1120,1140,1160], "tickSize": {"condition": {"test": "datum.value % 100 === 0", "value": -7}, "value": -4}, "tickWidth": {"condition": {"test": "datum.value % 100 === 0", "value": 2}, "value": 1}}}
     }}
  ],
  "resolve": {"axis": {"x": "independent", "y": "independent"}}
}
]
}
